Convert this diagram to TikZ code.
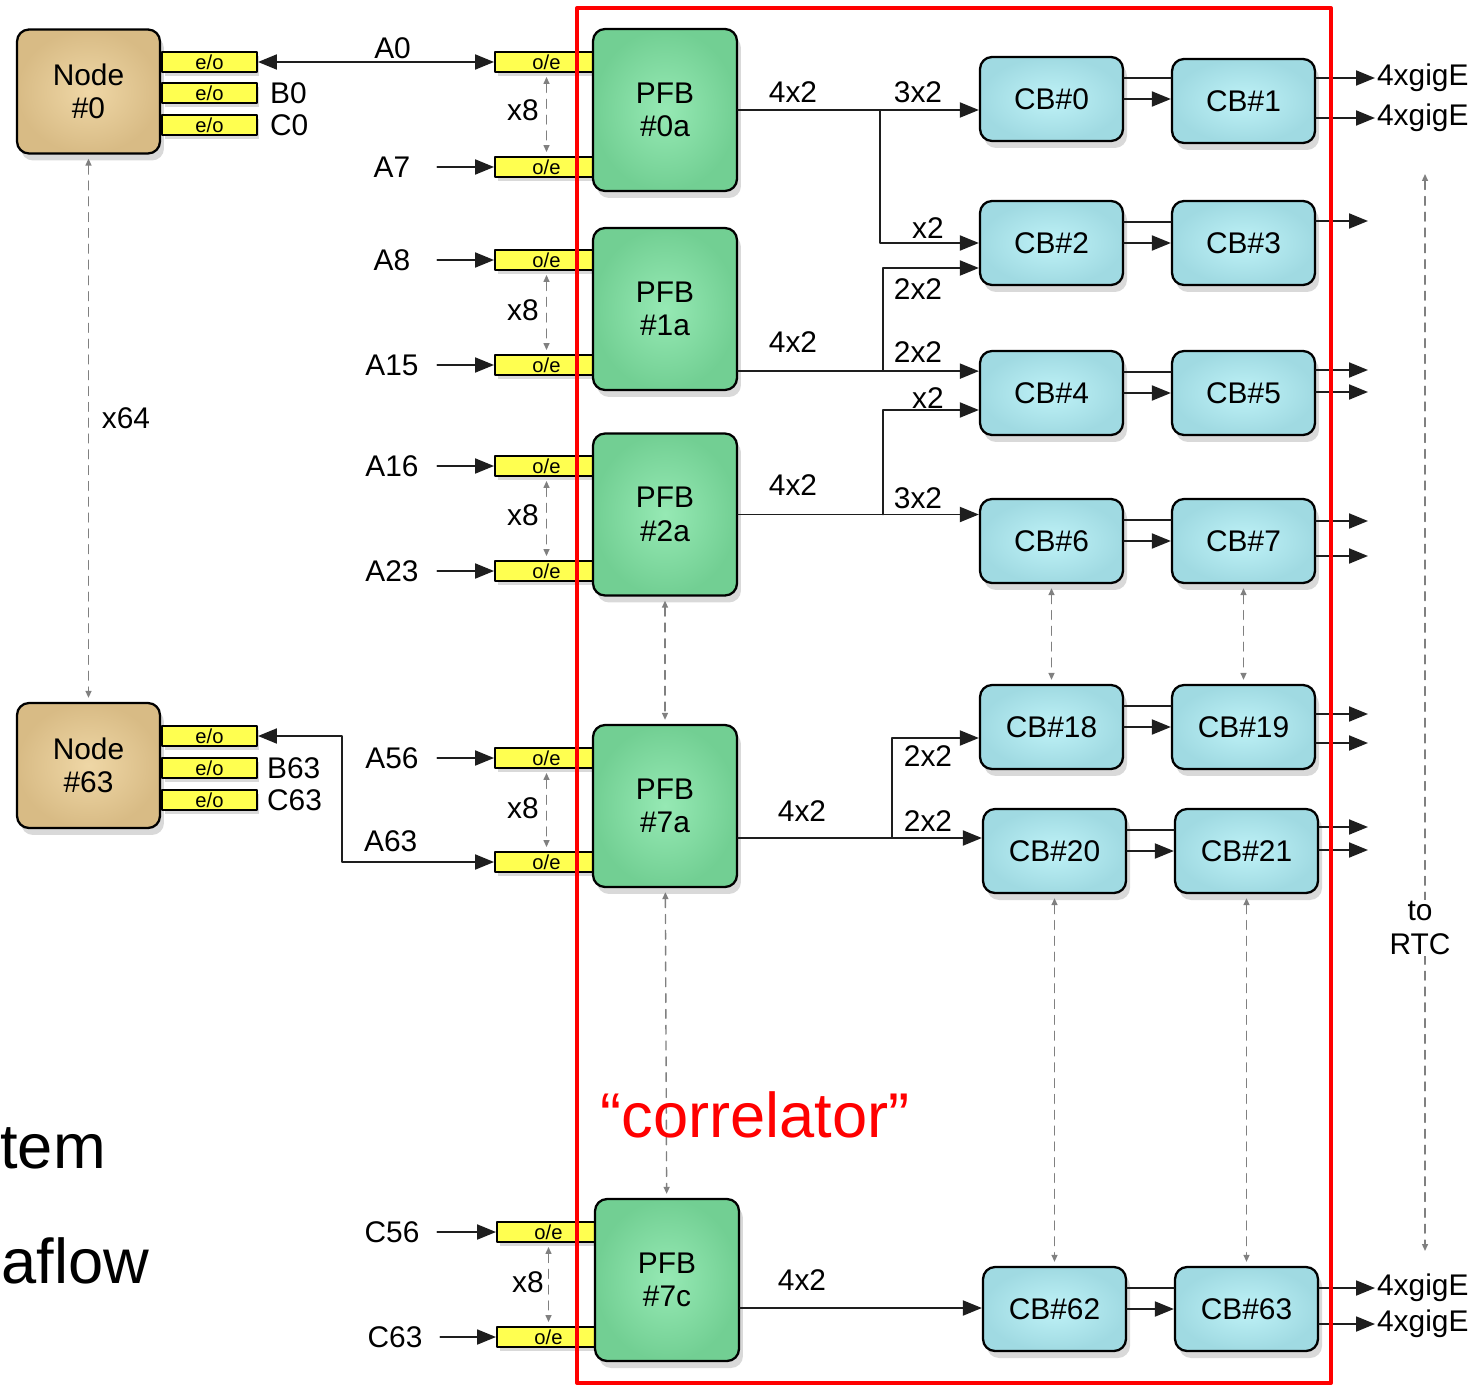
\documentclass[tikz,border=0pt]{standalone}
\usepackage{fontspec}
\setmainfont{Liberation Sans}
\usetikzlibrary{arrows.meta,shadows,positioning}

\definecolor{nodetan}{HTML}{D8BB85}
\definecolor{nodetanlt}{HTML}{EFD7A6}
\definecolor{pfbgreen}{HTML}{72CF93}
\definecolor{pfbgreenlt}{HTML}{96E9B4}
\definecolor{cbcyan}{HTML}{A0DAE2}
\definecolor{cbcyanlt}{HTML}{BFF2F7}
\definecolor{eoyellow}{HTML}{FFFF50}
\definecolor{wire}{HTML}{1E1E1E}

\begin{document}
\begin{tikzpicture}[x=0.02cm,y=-0.02cm,line cap=round,line join=round,
  every node/.style={font=\fontsize{17}{19}\selectfont},
  box/.style={draw=black,line width=1.3pt,rounded corners=0.24cm,align=center,
    drop shadow={opacity=0.3,shadow xshift=0.08cm,shadow yshift=-0.14cm}},
  hostbox/.style={box,inner color=nodetanlt,outer color=nodetan,minimum width=2.86cm,minimum height=2.48cm},
  pfbbox/.style={box,inner color=pfbgreenlt,outer color=pfbgreen,minimum width=2.88cm,minimum height=3.24cm},
  cbbox/.style={box,inner color=cbcyanlt,outer color=cbcyan,minimum width=2.86cm,minimum height=1.68cm},
  port/.style={draw=black,line width=1.1pt,fill=eoyellow,minimum width=1.9cm,minimum height=0.4cm,
    inner sep=0pt,font=\fontsize{11.5}{11.5}\selectfont,
    drop shadow={opacity=0.3,shadow xshift=0.05cm,shadow yshift=-0.08cm}},
  inport/.style={port,minimum width=2.06cm},
  feed/.style={text width=1.2cm,align=center,inner xsep=0.3cm},
  arr/.style={line width=1.1pt,draw=wire,-{Triangle[length=0.38cm,width=0.3cm]}},
  arrboth/.style={line width=1.1pt,draw=wire,{Triangle[length=0.38cm,width=0.3cm]}-{Triangle[length=0.38cm,width=0.3cm]}},
  link/.style={line width=1.1pt,draw=wire},
  rep/.style={draw=gray,line width=0.8pt,dash pattern=on 5pt off 4pt,shorten <=0.08cm,shorten >=0.08cm,
    {Triangle[length=0.14cm,width=0.12cm]}-{Triangle[length=0.14cm,width=0.12cm]}}]
  \useasboundingbox (0,0) rectangle (1476,1385);

  % hosts and their e/o ports
  \node[hostbox] (n0) at (88.5,91.5) {Node\\\#0};
  \node[hostbox,minimum height=2.5cm] (n63) at (88.5,765.5) {Node\\\#63};
  \node[port] (eo0a) at (209.5,62) {e/o};
  \node[port] (eo0b) at (209.5,93) {e/o};
  \node[port] (eo0c) at (209.5,125) {e/o};
  \node[port] (eo63a) at (209.5,736) {e/o};
  \node[port] (eo63b) at (209.5,768) {e/o};
  \node[port] (eo63c) at (209.5,800) {e/o};
  \node[right=0.12cm of eo0b] (b0) {B0};
  \node[right=0.12cm of eo0c] (c0) {C0};
  \node[right=0.06cm of eo63b] (b63) {B63};
  \node[right=0.06cm of eo63c] (c63lbl) {C63};
  \draw[rep] (n0) -- (n63);
  \node (x64) at (126,418) {x64};

  % o/e inputs
  \node[inport] (oe0a) at (546.5,62) {o/e};
  \node[inport] (oe0b) at (546.5,167) {o/e};
  \node[inport] (oe1a) at (546.5,260) {o/e};
  \node[inport] (oe1b) at (546.5,365) {o/e};
  \node[inport] (oe2a) at (546.5,466) {o/e};
  \node[inport] (oe2b) at (546.5,571) {o/e};
  \node[inport] (oe7a) at (546.5,758) {o/e};
  \node[inport] (oe7b) at (546.5,862) {o/e};
  \node[inport] (oeca) at (548.5,1232) {o/e};
  \node[inport] (oecb) at (548.5,1337) {o/e};

  % filter banks
  \node[pfbbox] (pfb0) at (665,110) {PFB\\\#0a};
  \node[pfbbox] (pfb1) at (665,309) {PFB\\\#1a};
  \node[pfbbox] (pfb2) at (665,514.5) {PFB\\\#2a};
  \node[pfbbox] (pfb7) at (665,806) {PFB\\\#7a};
  \node[pfbbox] (pfb7c) at (667,1280) {PFB\\\#7c};
  \draw[rep] (pfb2) -- (pfb7);
  \draw[rep] (pfb7) -- (pfb7c);

  % feeds
  \draw[arrboth] (eo0a) -- (oe0a) node[pos=0.57,above,inner sep=1pt] (a0) {A0};
  \coordinate (j63) at (342,736);
  \draw[arrboth] (eo63a) -- (j63) |- (oe7b) node[pos=0.66,above=0.15cm,inner sep=1pt] (a63) {A63};
  \node[feed] (a7) at (392,167) {A7};
  \node[feed] (a8) at (392,260) {A8};
  \node[feed] (a15) at (392,365) {A15};
  \node[feed] (a16) at (392,466) {A16};
  \node[feed] (a23) at (392,571) {A23};
  \node[feed] (a56) at (392,758) {A56};
  \node[feed] (c56) at (392,1232) {C56};
  \node[feed] (c63) at (395,1337) {C63};
  \draw[arr] (a7) -- (oe0b);
  \draw[arr] (a8) -- (oe1a);
  \draw[arr] (a15) -- (oe1b);
  \draw[arr] (a16) -- (oe2a);
  \draw[arr] (a23) -- (oe2b);
  \draw[arr] (a56) -- (oe7a);
  \draw[arr] (c56) -- (oeca);
  \draw[arr] (c63) -- (oecb);
  \foreach \t/\b in {oe0a/oe0b,oe1a/oe1b,oe2a/oe2b,oe7a/oe7b,oeca/oecb}{
    \draw[rep] (\t) -- (\b);
  }
  \node (x8a) at (523,110) {x8};
  \node (x8b) at (523,310) {x8};
  \node (x8c) at (523,515) {x8};
  \node (x8d) at (523,808) {x8};
  \node (x8e) at (528,1282) {x8};

  % correlator boards
  \node[cbbox] (cb0) at (1051.5,99) {CB\#0};
  \node[cbbox] (cb1) at (1243.5,101) {CB\#1};
  \node[cbbox] (cb2) at (1051.5,243) {CB\#2};
  \node[cbbox] (cb3) at (1243.5,243) {CB\#3};
  \node[cbbox] (cb4) at (1051.5,393) {CB\#4};
  \node[cbbox] (cb5) at (1243.5,393) {CB\#5};
  \node[cbbox] (cb6) at (1051.5,541) {CB\#6};
  \node[cbbox] (cb7) at (1243.5,541) {CB\#7};
  \node[cbbox] (cb18) at (1051.5,727) {CB\#18};
  \node[cbbox] (cb19) at (1243.5,727) {CB\#19};
  \node[cbbox] (cb20) at (1054.5,851) {CB\#20};
  \node[cbbox] (cb21) at (1246.5,851) {CB\#21};
  \node[cbbox] (cb62) at (1054.5,1309) {CB\#62};
  \node[cbbox] (cb63) at (1246.5,1309) {CB\#63};
  \draw[rep] (cb6) -- (cb18);
  \draw[rep] (cb7) -- (cb19);
  \draw[rep] (cb20) -- (cb62);
  \draw[rep] (cb21) -- (cb63);

  % PFB to CB
  \draw[arr] (pfb0) -- (pfb0 -| cb0.west);
  \coordinate (j0) at (880,110);
  \draw[arr] (j0) |- (cb2);
  \coordinate (p1out) at ([yshift=0.4cm]pfb1.south east);
  \draw[arr] (p1out) -- (p1out -| cb4.west);
  \coordinate (j1) at (883,370);
  \draw[arr] (j1) |- ([yshift=-0.5cm]cb2.west);
  \draw[arr] (pfb2) -- (pfb2 -| cb6.west);
  \coordinate (j2) at (883,514.5);
  \draw[arr] (j2) |- ([yshift=-0.34cm]cb4.west);
  \coordinate (p7out) at ([yshift=-0.64cm]pfb7.east);
  \draw[arr] (p7out) -- (p7out -| cb20.west);
  \coordinate (j7) at (892,838);
  \draw[arr] (j7) |- ([yshift=-0.22cm]cb18.west);
  \coordinate (pcout) at ([yshift=-0.56cm]pfb7c.east);
  \draw[arr] (pcout) -- (pcout -| cb62.west);
  \node (w0) at (793,92) {4x2};
  \node (w0a) at (918,92) {3x2};
  \node (w0b) at (928,228) {x2};
  \node (w1b) at (918,289) {2x2};
  \node (w1) at (793,342) {4x2};
  \node (w1a) at (918,352) {2x2};
  \node (w2b) at (928,398) {x2};
  \node (w2) at (793,485) {4x2};
  \node (w2a) at (918,498) {3x2};
  \node (w7b) at (928,756) {2x2};
  \node (w7) at (802,811) {4x2};
  \node (w7a) at (928,821) {2x2};
  \node (wc) at (802,1280) {4x2};

  % CB pairs
  \foreach \a/\b in {cb0/cb1,cb2/cb3,cb4/cb5,cb6/cb7,cb18/cb19,cb20/cb21,cb62/cb63}{
    \coordinate (up) at ([yshift=0.42cm]\a.east);
    \draw[link] (up) -- (up -| \b.west);
    \draw[arr] (\a.east) -- (\a.east -| \b.west);
  }

  % outputs
  \node[anchor=west,inner sep=1pt] (g0) at (1375,78) {4xgigE};
  \node[anchor=west,inner sep=1pt] (g1) at (1375,118) {4xgigE};
  \node[anchor=west,inner sep=1pt] (g62) at (1375,1288) {4xgigE};
  \node[anchor=west,inner sep=1pt] (g63) at (1375,1324) {4xgigE};
  \draw[arr] (g0.west -| cb1.east) -- (g0.west);
  \draw[arr] (g1.west -| cb1.east) -- (g1.west);
  \draw[arr] (g62.west -| cb63.east) -- (g62.west);
  \draw[arr] (g63.west -| cb63.east) -- (g63.west);
  \foreach \c/\y [count=\i] in {cb3/221,cb5/370,cb5/392,cb7/521,cb7/556,cb19/714,cb19/743,cb21/827,cb21/850}{
    \coordinate (out\i) at (1368,\y);
    \draw[arr] (out\i -| \c.east) -- (out\i);
  }
  \coordinate (rtctop) at (1425,170);
  \coordinate (rtcbot) at (1425,1255);
  \draw[rep] (rtctop) -- (rtcbot);
  \node[fill=white,align=center,inner sep=1pt] (rtc) at (1420,928) {to\\RTC};

  % frame and slide text
  \draw[red,line width=2.3pt] (577,8) rectangle (1331,1383);
  \node[text=red,font=\fontsize{36}{40}\selectfont] (corr) at (755,1115) {“correlator”};
  \node[anchor=base west,inner sep=0pt,font=\fontsize{36}{40}\selectfont] (sys) at (0,1168) {tem};
  \node[anchor=base west,inner sep=0pt,font=\fontsize{36}{40}\selectfont] (flow) at (1,1283) {aflow};
\end{tikzpicture}
\end{document}
